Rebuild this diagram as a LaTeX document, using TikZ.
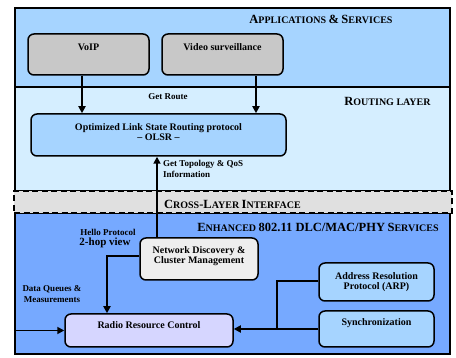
\documentclass[tikz,border=0pt]{standalone}
\usepackage{fontspec}
\setmainfont{Liberation Serif}
\usetikzlibrary{arrows.meta}
\definecolor{appc}{HTML}{A6D4FF}
\definecolor{routc}{HTML}{D5EEFF}
\definecolor{enhc}{HTML}{76A9FF}
\definecolor{crossc}{HTML}{E0E0E0}
\definecolor{grayc}{HTML}{C8C8C8}
\definecolor{ndc}{HTML}{EEEEEE}
\definecolor{rrcc}{HTML}{D6D6FF}
\newcommand\bgc[1]{{\fontsize{12.5}{14}\selectfont #1}}
\newcommand\smcap[1]{{\fontsize{10}{12}\selectfont #1}}
\tikzset{
  layer/.style={draw=black, line width=1.4pt, rectangle, inner sep=0pt},
  box/.style={draw=black, line width=1.5pt, rectangle, rounded corners=6pt, inner sep=0pt},
  title/.style={font=\bfseries, inner sep=0pt},
  boxtxt/.style={font=\bfseries\fontsize{10}{11}\selectfont, align=center, inner sep=0pt},
  lbl/.style={font=\bfseries\fontsize{9}{11}\selectfont, align=center, inner sep=0pt},
  arr/.style={line width=1.7pt, -{Triangle[length=7pt,width=7pt]}},
  ln/.style={line width=1.7pt}
}
\begin{document}
\begin{tikzpicture}[x=1pt,y=-1pt]
\useasboundingbox[fill=white] (0,0) rectangle (456,358);
% layers
\node[layer, fill=appc, minimum width=435pt, minimum height=79pt] (apps) at (232.5,47.5) {};
\node[layer, fill=routc, minimum width=435pt, minimum height=104pt] (rout) at (232.5,139) {};
\node[layer, fill=enhc, minimum width=435pt, minimum height=141pt] (enh) at (232.5,283.5) {};
\node[rectangle, draw=black, fill=crossc, line width=1.6pt, dash pattern=on 6pt off 3.5pt, minimum width=438pt, minimum height=22pt, inner sep=0pt] (cross) at (233,202) {};
% titles
\node[title] (tapps) at (321,19) {\bgc{A}\smcap{PPLICATIONS} \bgc{\&} \bgc{S}\smcap{ERVICES}};
\node[title] (trout) at (387.5,101) {\bgc{R}\smcap{OUTING LAYER}};
\node[title] (tcross) at (232.5,204) {\bgc{C}\smcap{ROSS}\bgc{-L}\smcap{AYER} \bgc{I}\smcap{NTERFACE}};
\node[title] (tenh) at (318,227) {\bgc{E}\smcap{NHANCED} \bgc{802.11 DLC/MAC/PHY} \bgc{S}\smcap{ERVICES}};
% boxes
\node[box, fill=grayc, minimum width=121pt, minimum height=41pt] (voip) at (88.5,54.5) {};
\node[boxtxt] (voipt) at (88.5,47) {VoIP};
\node[box, fill=grayc, minimum width=121pt, minimum height=41pt] (video) at (222.5,54.5) {};
\node[boxtxt] (videot) at (222.5,47) {Video surveillance};
\node[box, fill=appc, minimum width=255pt, minimum height=42pt] (olsr) at (158.5,135) {};
\node[boxtxt] (olsrt) at (158.5,132.5) {Optimized Link State Routing protocol\\[-1pt]-- OLSR --};
\node[box, fill=ndc, minimum width=118pt, minimum height=42pt] (nd) at (199,259) {};
\node[boxtxt] (ndt) at (199,256.5) {Network Discovery \&\\[-1pt]Cluster Management};
\node[box, fill=rrcc, minimum width=168pt, minimum height=33pt] (rrc) at (149,330.5) {};
\node[boxtxt] (rrct) at (149,325) {Radio Resource Control};
\node[box, fill=appc, minimum width=115pt, minimum height=38pt] (arp) at (376.5,282) {};
\node[boxtxt] (arpt) at (376.5,281.7) {Address Resolution\\[-1pt]Protocol (ARP)};
\node[box, fill=appc, minimum width=115pt, minimum height=36pt] (sync) at (376.5,329) {};
\node[boxtxt] (synct) at (376.5,322.7) {Synchronization};
% labels
\node[lbl] (lroute) at (168,97) {Get Route};
\node[lbl, anchor=west, align=left] (ltopo) at (163,168.5) {Get Topology \& QoS\\Information};
\node[lbl] (lhello) at (108,232) {Hello Protocol};
\node[font=\bfseries\fontsize{11}{12}\selectfont, inner sep=0pt] (lhop) at (105,243) {2-hop view};
\node[lbl] (ldata) at (52,294.5) {Data Queues \&\\Measurements};
% connectors
\coordinate (xv) at (82,0);
\coordinate (xw) at (256,0);
\coordinate (xt) at (157,0);
\coordinate (hc) at (107,256);
\coordinate (lin) at (15,330.5);
\coordinate (jc) at (277,281);
\draw[arr] (voip.south -| xv) -- (olsr.north -| xv);
\draw[arr] (video.south -| xw) -- (olsr.north -| xw);
\draw[arr] (nd.north -| xt) -- (olsr.south -| xt);
\draw[arr] (nd.west |- hc) -- (hc) -- (rrc.north -| hc);
\draw[arr] (lin) -- (rrc.west);
\draw[ln] (arp.west |- jc) -- (jc) -- (jc |- sync.west);
\draw[arr] (sync.west) -- (sync.west -| rrc.east);
\end{tikzpicture}
\end{document}
